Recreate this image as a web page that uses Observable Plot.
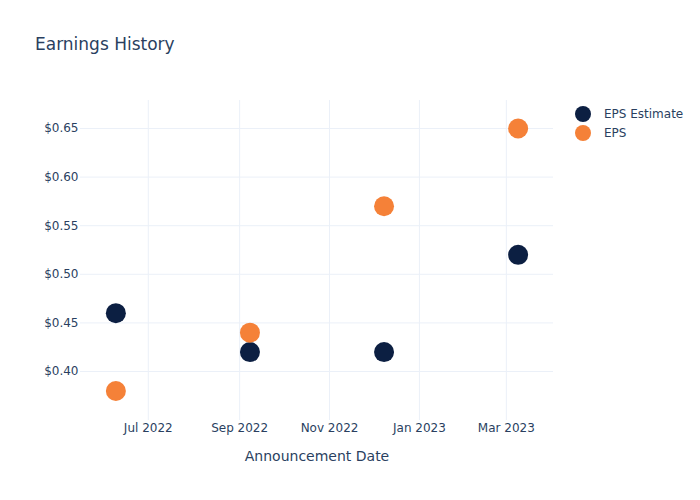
<!DOCTYPE html>
<html>
<head>
<meta charset="utf-8">
<script src="https://cdn.jsdelivr.net/npm/d3@7"></script>
<script src="https://cdn.jsdelivr.net/npm/@observablehq/plot@0.6"></script>
<style>
  html, body { margin: 0; padding: 0; background: #fff; }
  #wrap { position: relative; width: 700px; height: 500px; font-family: "DejaVu Sans", sans-serif; color: #2a3f5f; }
  #title { position: absolute; left: 35px; top: 34px; font-size: 17px; color: #2a3f5f; white-space: nowrap; }
  .leg { position: absolute; left: 575px; font-size: 12px; display: flex; align-items: center; white-space: nowrap; }
  .leg span.sw { display: inline-block; width: 16px; height: 16px; border-radius: 50%; margin-right: 13px; }
</style>
</head>
<body>
<div id="wrap">
  <div id="chart"></div>
  <div id="title">Earnings History</div>
  <div class="leg" style="top:106px"><span class="sw" style="background:#0c1f42"></span>EPS Estimate</div>
  <div class="leg" style="top:125px"><span class="sw" style="background:#f58138"></span>EPS</div>
</div>
<script>
const dates = ["2022-06-09", "2022-09-08", "2022-12-08", "2023-03-09"];
const epsEstimate = [0.46, 0.42, 0.42, 0.52];
const eps = [0.38, 0.44, 0.57, 0.65];
const xTicks = ["2022-07-01", "2022-09-01", "2022-11-01", "2023-01-01", "2023-03-01"];
const yTicks = [0.40, 0.45, 0.50, 0.55, 0.60, 0.65];
const seriesNames = ["EPS Estimate", "EPS"];
const seriesColors = ["#0c1f42", "#f58138"];

const parse = d3.utcParse("%Y-%m-%d");
const rows = [];
dates.forEach((d, i) => rows.push({date: parse(d), value: epsEstimate[i], series: seriesNames[0]}));
dates.forEach((d, i) => rows.push({date: parse(d), value: eps[i], series: seriesNames[1]}));

const chart = Plot.plot({
  width: 700,
  height: 500,
  marginLeft: 80,
  marginRight: 147,
  marginTop: 100,
  marginBottom: 80,
  style: {fontFamily: "DejaVu Sans, sans-serif", fontSize: "12px", color: "#2a3f5f", background: "#fff"},
  x: {type: "utc", domain: [parse("2022-05-16"), parse("2023-04-02")]},
  y: {domain: [0.3496, 0.6788]},
  color: {domain: seriesNames, range: seriesColors},
  marks: [
    Plot.gridX(xTicks.map(parse), {stroke: "#ebf0f8", strokeOpacity: 1}),
    Plot.gridY(yTicks, {stroke: "#ebf0f8", strokeOpacity: 1}),
    Plot.axisX(xTicks.map(parse), {tickSize: 0, tickPadding: 3, tickFormat: d3.utcFormat("%b %Y"), fontSize: 12, fill: "#2a3f5f", label: null}),
    Plot.axisY(yTicks, {tickSize: 0, tickPadding: 2, tickFormat: d => "$" + d.toFixed(2), fontSize: 12, fill: "#2a3f5f", label: null}),
    Plot.text(["Announcement Date"], {frameAnchor: "bottom", dy: 40, fontSize: 14, fill: "#2a3f5f"}),
    Plot.dot(rows, {x: "date", y: "value", fill: "series", r: 10, stroke: "none"})
  ]
});
document.getElementById("chart").appendChild(chart);
</script>
</body>
</html>
